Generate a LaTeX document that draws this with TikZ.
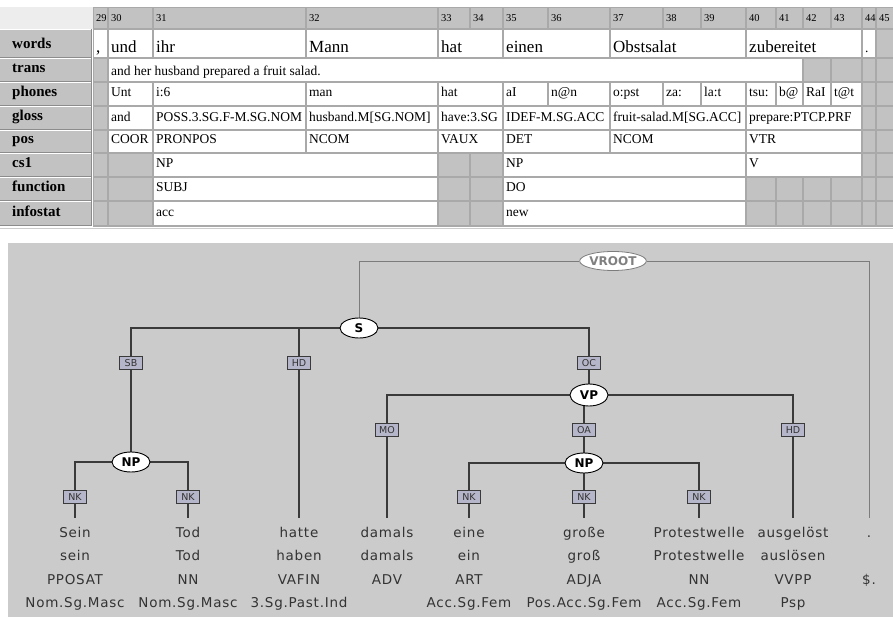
\documentclass[tikz,border=0pt]{standalone}
\usepackage{fontspec}
\setmainfont{Liberation Serif}
\newfontfamily\treefont{DejaVu Sans}
\newfontfamily\treefontsp[LetterSpace=5.5]{DejaVu Sans}
\usetikzlibrary{shapes.geometric}
\pgfdeclarelayer{back}
\pgfdeclarelayer{bg}
\pgfsetlayers{back,bg,main}

\definecolor{gridc}{HTML}{A9A9A9}
\definecolor{cellgray}{HTML}{C2C2C2}
\definecolor{panel}{HTML}{CBCBCB}
\definecolor{lblfill}{HTML}{B6B6CA}
\definecolor{treeline}{HTML}{3A3A3A}
\definecolor{rootline}{HTML}{7C7C7C}
\definecolor{treetext}{HTML}{333333}

\tikzset{
  tabtxt/.style={font=\fontsize{13.5}{15}\selectfont, inner sep=0pt, anchor=base west, text=black},
  wordtxt/.style={tabtxt, font=\fontsize{17}{19}\selectfont},
  hdtxt/.style={tabtxt, font=\fontsize{10.5}{12}\selectfont},
  rowlbl/.style={anchor=base west, inner sep=0pt, font=\fontsize{15}{17}\selectfont\bfseries},
  cat/.style={ellipse, draw=black, fill=white, line width=0.9pt, minimum width=38, minimum height=20, inner sep=0pt, font=\treefont\bfseries\fontsize{12}{14}\selectfont},
  vrootst/.style={ellipse, draw=rootline, fill=white, line width=0.8pt, minimum width=63, minimum height=19, inner sep=0pt, text=gray, font=\treefont\bfseries\fontsize{12}{13}\selectfont},
  elab/.style={draw=treeline, fill=lblfill, line width=0.8pt, minimum width=23, minimum height=13, inner sep=0pt, text=treetext, font=\treefont\fontsize{9.5}{10}\selectfont},
  wd/.style={anchor=base, inner sep=0pt, text=treetext, font=\treefontsp\fontsize{13.5}{16}\selectfont},
  tl/.style={draw=treeline, line width=1.3pt},
  rootl/.style={draw=rootline, line width=0.9pt}
}

\newcommand\wcell[8][tabtxt]{%
  \fill[white] (#3+1,#5+1) rectangle (#4-1,#6-1);
  \begin{scope}
    \clip (#3+1,#5+1) rectangle (#4-1,#6-1);
    \node[#1] (#2) at (#3+3,#7) {#8};
  \end{scope}}
\newcommand\gcell[4]{\fill[cellgray] (#1+1,#3+1) rectangle (#2-1,#4-1);}

\begin{document}
\begin{tikzpicture}[x=1pt,y=-1pt]
\useasboundingbox (0,0) rectangle (893,617);
\begin{pgfonlayer}{back}
  \fill[white] (0,0) rectangle (893,617);
  \fill[panel] (8,243) rectangle (895,619);
\end{pgfonlayer}

% ---------- table ----------
\fill[gridc] (93,7) rectangle (895,227);
\fill[black!7] (0,7) rectangle (93,29);
\foreach \n/\a/\b in {29/93/108, 30/108/153, 31/153/306, 32/306/438, 33/438/470, 34/470/503, 35/503/548, 36/548/610, 37/610/663, 38/663/701, 39/701/746, 40/746/776, 41/776/803, 42/803/831, 43/831/862, 44/862/876, 45/876/895}{
  \fill[cellgray] (\a+1,8) rectangle (\b-1,28);
  \begin{scope}
    \clip (\a+1,8) rectangle (\b-1,28);
    \node[hdtxt] (h\n) at (\a+3,22) {\n};
  \end{scope}
}
% row labels
\foreach \n/\t/\a/\b in {lw/words/29/58, lt/trans/58/82, lp/phones/82/106, lg/gloss/106/130, lpos/pos/130/153, lc/cs1/153/177, lf/function/177/201, li/infostat/201/226}{
  \fill[cellgray] (0,\a) rectangle (92,\b);
  \draw[white, line width=1pt] (0,\a+0.5) -- (92,\a+0.5);
  \draw[black!45, line width=1pt] (0,\b-0.5) -- (92,\b-0.5);
  \draw[black!45, line width=1pt] (91.5,\a) -- (91.5,\b);
  \node[rowlbl] (\n) at (12,\b-9) {\t};
}
% words
\wcell[wordtxt]{w29}{93}{108}{29}{58}{53}{,}
\wcell[wordtxt]{w30}{108}{153}{29}{58}{53}{und}
\wcell[wordtxt]{w31}{153}{306}{29}{58}{53}{ihr}
\wcell[wordtxt]{w32}{306}{438}{29}{58}{53}{Mann}
\wcell[wordtxt]{w33}{438}{503}{29}{58}{53}{hat}
\wcell[wordtxt]{w35}{503}{610}{29}{58}{53}{einen}
\wcell[wordtxt]{w37}{610}{746}{29}{58}{53}{Obstsalat}
\wcell[wordtxt]{w40}{746}{862}{29}{58}{53}{zubereitet}
\wcell{w44}{862}{876}{29}{58}{53}{.}
\gcell{876}{895}{29}{58}
% trans
\gcell{93}{108}{58}{82}
\wcell{t30}{108}{803}{58}{82}{76}{and her husband prepared a fruit salad.}
\gcell{803}{831}{58}{82}
\gcell{831}{862}{58}{82}
\gcell{862}{876}{58}{82}
\gcell{876}{895}{58}{82}
% phones
\gcell{93}{108}{82}{106}
\wcell{p30}{108}{153}{82}{106}{97}{Unt}
\wcell{p31}{153}{306}{82}{106}{97}{i:6}
\wcell{p32}{306}{438}{82}{106}{97}{man}
\wcell{p33}{438}{503}{82}{106}{97}{hat}
\wcell{p35}{503}{548}{82}{106}{97}{aI}
\wcell{p36}{548}{610}{82}{106}{97}{n@n}
\wcell{p37}{610}{663}{82}{106}{97}{o:pst}
\wcell{p38}{663}{701}{82}{106}{97}{za:}
\wcell{p39}{701}{746}{82}{106}{97}{la:t}
\wcell{p40}{746}{776}{82}{106}{97}{tsu:}
\wcell{p41}{776}{803}{82}{106}{97}{b@}
\wcell{p42}{803}{831}{82}{106}{97}{RaI}
\wcell{p43}{831}{862}{82}{106}{97}{t@t}
\gcell{862}{876}{82}{106}
\gcell{876}{895}{82}{106}
% gloss
\gcell{93}{108}{106}{130}
\wcell{g30}{108}{153}{106}{130}{122}{and}
\wcell{g31}{153}{306}{106}{130}{122}{POSS.3.SG.F-M.SG.NOM}
\wcell{g32}{306}{438}{106}{130}{122}{husband.M[SG.NOM]}
\wcell{g33}{438}{503}{106}{130}{122}{have:3.SG}
\wcell{g35}{503}{610}{106}{130}{122}{IDEF-M.SG.ACC}
\wcell{g37}{610}{746}{106}{130}{122}{fruit-salad.M[SG.ACC]}
\wcell{g40}{746}{862}{106}{130}{122}{prepare:PTCP.PRF}
\gcell{862}{876}{106}{130}
\gcell{876}{895}{106}{130}
% pos
\gcell{93}{108}{130}{153}
\wcell{s30}{108}{153}{130}{153}{144}{COOR}
\wcell{s31}{153}{306}{130}{153}{144}{PRONPOS}
\wcell{s32}{306}{438}{130}{153}{144}{NCOM}
\wcell{s33}{438}{503}{130}{153}{144}{VAUX}
\wcell{s35}{503}{610}{130}{153}{144}{DET}
\wcell{s37}{610}{746}{130}{153}{144}{NCOM}
\wcell{s40}{746}{862}{130}{153}{144}{VTR}
\gcell{862}{876}{130}{153}
\gcell{876}{895}{130}{153}
% cs1
\gcell{93}{108}{153}{177}
\gcell{108}{153}{153}{177}
\wcell{c31}{153}{438}{153}{177}{168}{NP}
\gcell{438}{470}{153}{177}
\gcell{470}{503}{153}{177}
\wcell{c35}{503}{746}{153}{177}{168}{NP}
\wcell{c40}{746}{862}{153}{177}{168}{V}
\gcell{862}{876}{153}{177}
\gcell{876}{895}{153}{177}
% function
\gcell{93}{108}{177}{201}
\gcell{108}{153}{177}{201}
\wcell{f31}{153}{438}{177}{201}{192}{SUBJ}
\gcell{438}{470}{177}{201}
\gcell{470}{503}{177}{201}
\wcell{f35}{503}{746}{177}{201}{192}{DO}
\gcell{746}{776}{177}{201}
\gcell{776}{803}{177}{201}
\gcell{803}{831}{177}{201}
\gcell{831}{862}{177}{201}
\gcell{862}{876}{177}{201}
\gcell{876}{895}{177}{201}
% infostat
\gcell{93}{108}{201}{226}
\gcell{108}{153}{201}{226}
\wcell{i31}{153}{438}{201}{226}{217}{acc}
\gcell{438}{470}{201}{226}
\gcell{470}{503}{201}{226}
\wcell{i35}{503}{746}{201}{226}{217}{new}
\gcell{746}{776}{201}{226}
\gcell{776}{803}{201}{226}
\gcell{803}{831}{201}{226}
\gcell{831}{862}{201}{226}
\gcell{862}{876}{201}{226}
\gcell{876}{895}{201}{226}
\draw[black!20, line width=1.2pt] (0,228.5) -- (893,228.5);

% ---------- tree ----------
\node[vrootst] (vroot) at (613,261) {VROOT};
\node[cat] (S) at (359,328) {S};
\node[cat] (NPa) at (131,462) {NP};
\node[cat, minimum height=22] (VP) at (589,395) {VP};
\node[cat] (NPb) at (584,463) {NP};

\node[elab] (SB) at (131,363) {SB};
\node[elab] (HDa) at (299,363) {HD};
\node[elab] (OC) at (589,363) {OC};
\node[elab] (MO) at (387,430) {MO};
\node[elab] (OA) at (584,430) {OA};
\node[elab] (HDb) at (793,430) {HD};
\node[elab] (NKa) at (75,497) {NK};
\node[elab] (NKb) at (188,497) {NK};
\node[elab] (NKc) at (469,497) {NK};
\node[elab] (NKd) at (584,497) {NK};
\node[elab] (NKe) at (699,497) {NK};

\foreach \n/\x in {sein/75, tod/188, hatte/299, damals/387, eine/469, grosse/584, protest/699, ausg/793, dot/869}{
  \coordinate (t-\n) at (\x,518);
}

\foreach \n/\x/\a/\b/\c/\d in {sein/75/Sein/sein/PPOSAT/Nom.Sg.Masc, tod/188/Tod/Tod/NN/Nom.Sg.Masc, hatte/299/hatte/haben/VAFIN/3.Sg.Past.Ind, damals/387/damals/damals/ADV/{}, eine/469/eine/ein/ART/Acc.Sg.Fem, grosse/584/große/groß/ADJA/Pos.Acc.Sg.Fem, protest/699/Protestwelle/Protestwelle/NN/Acc.Sg.Fem, ausg/793/ausgelöst/auslösen/VVPP/Psp, dot/869/./{}/\$./{}}{
  \node[wd] (\n-1) at (\x,537) {\a};
  \node[wd] (\n-2) at (\x,560) {\b};
  \node[wd] (\n-3) at (\x,584) {\c};
  \node[wd] (\n-4) at (\x,607) {\d};
}

\begin{pgfonlayer}{bg}
  \draw[rootl] (vroot) -| (S);
  \draw[rootl] (vroot) -| (t-dot);
  \draw[tl] (S) -| (SB);
  \draw[tl] (S) -| (HDa);
  \draw[tl] (S) -| (OC);
  \draw[tl] (SB) -- (NPa);
  \draw[tl] (HDa) -- (t-hatte);
  \draw[tl] (OC) -- (VP);
  \draw[tl] (VP) -| (MO);
  \draw[tl] (VP) -| (HDb);
  \draw[tl] (VP -| OA) -- (OA);
  \draw[tl] (MO) -- (t-damals);
  \draw[tl] (HDb) -- (t-ausg);
  \draw[tl] (OA) -- (NPb);
  \draw[tl] (NPa) -| (NKa);
  \draw[tl] (NPa) -| (NKb);
  \draw[tl] (NKa) -- (t-sein);
  \draw[tl] (NKb) -- (t-tod);
  \draw[tl] (NPb) -| (NKc);
  \draw[tl] (NPb) -- (NKd);
  \draw[tl] (NPb) -| (NKe);
  \draw[tl] (NKc) -- (t-eine);
  \draw[tl] (NKd) -- (t-grosse);
  \draw[tl] (NKe) -- (t-protest);
\end{pgfonlayer}
\end{tikzpicture}
\end{document}
